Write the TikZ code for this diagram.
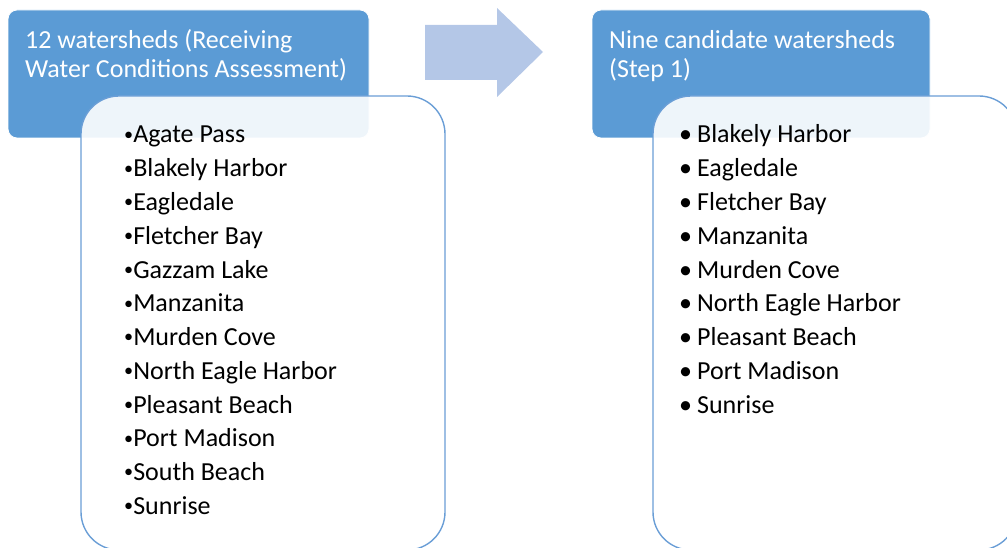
\documentclass[tikz,border=0pt]{standalone}
\usepackage{fontspec}
\setmainfont{Carlito}
\definecolor{hdrblue}{HTML}{5B9BD5}
\definecolor{arrowblue}{HTML}{B4C7E7}
\definecolor{edgeblue}{HTML}{6A9ED6}
\tikzset{
  hdrbox/.style={draw=white, line width=0.8pt, fill=hdrblue, rounded corners=9pt, inner sep=0pt},
  listbox/.style={draw=edgeblue, line width=1.4pt, fill=white, fill opacity=0.9, rounded corners=38pt, inner sep=0pt},
  hdrtext/.style={text=white, font=\fontsize{26}{30}\selectfont, inner sep=0pt, anchor=base west},
  itemtext/.style={text=black, font=\fontsize{26}{30}\selectfont, inner sep=0pt, anchor=base west},
}
\newcommand{\smallbul}{\raisebox{2.6pt}{\scalebox{0.7}{\textbullet}}}
\begin{document}
\begin{tikzpicture}[x=1pt,y=-1pt]
\useasboundingbox (0,0) rectangle (1007,548);
\clip (0,0) rectangle (1007,548);
% header boxes
\node[hdrbox, minimum width=361pt, minimum height=128pt] (h1) at (188.5,74) {};
\node[hdrbox, minimum width=338pt, minimum height=128pt] (h2) at (761,74) {};
% arrow
\fill[arrowblue] (425,25) -- (497,25) -- (497,8) -- (543,52) -- (497,97) -- (497,80) -- (425,80) -- cycle;
% list boxes
\node[listbox, minimum width=364pt, minimum height=454pt] (b1) at (263,323) {};
\node[listbox, minimum width=364pt, minimum height=454pt] (b2) at (835,323) {};
% header texts
\node[hdrtext] (t1a) at (25,49) {12 watersheds (Receiving};
\node[hdrtext] (t1b) at (25,78) {Water Conditions Assessment)};
\node[hdrtext] (t2a) at (609,49) {Nine candidate watersheds};
\node[hdrtext] (t2b) at (609,78) {(Step 1)};
% left list
\foreach \t [count=\i] in {Agate Pass,Blakely Harbor,Eagledale,Fletcher Bay,Gazzam Lake,Manzanita,Murden Cove,North Eagle Harbor,Pleasant Beach,Port Madison,South Beach,Sunrise}
  \node[itemtext] (l\i) at (124,{143+33.75*(\i-1)}) {\smallbul\t};
% right list
\foreach \t [count=\i] in {Blakely Harbor,Eagledale,Fletcher Bay,Manzanita,Murden Cove,North Eagle Harbor,Pleasant Beach,Port Madison,Sunrise}
  \node[itemtext] (r\i) at (679,{143+33.75*(\i-1)}) {\textbullet\hspace{5pt}\t};
\end{tikzpicture}
\end{document}
